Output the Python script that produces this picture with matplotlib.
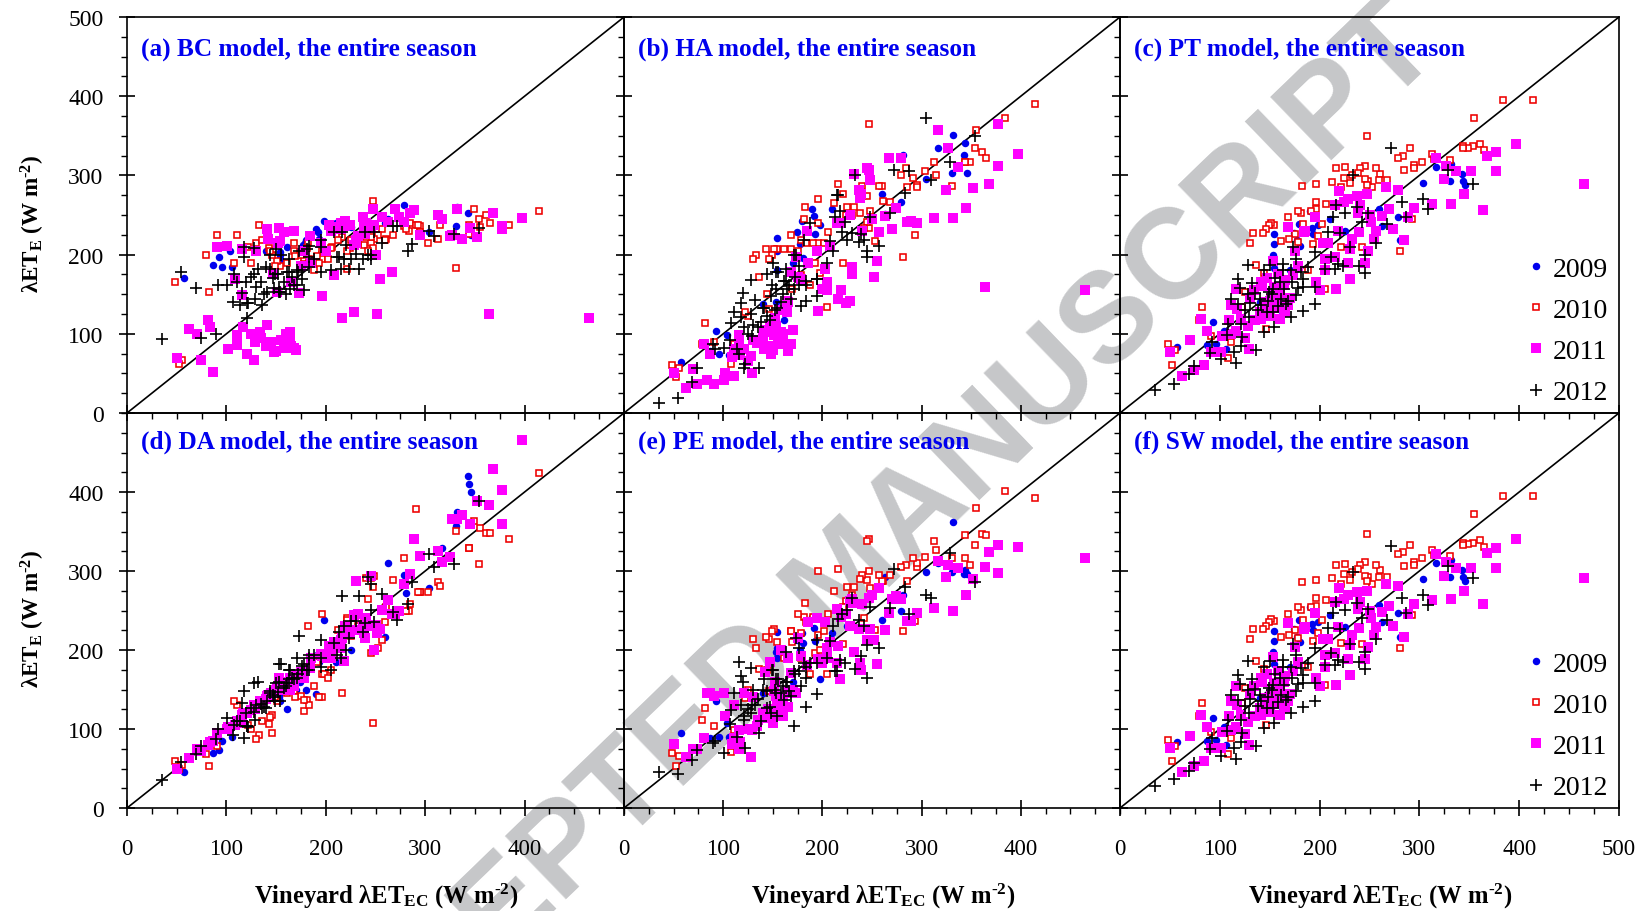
import matplotlib
matplotlib.use('Agg')
import matplotlib.pyplot as plt
from matplotlib.ticker import MultipleLocator

plt.rcParams['font.family'] = ['Liberation Serif', 'DejaVu Serif']
plt.rcParams['mathtext.fontset'] = 'custom'
plt.rcParams['mathtext.rm'] = 'Liberation Serif:bold'
plt.rcParams['mathtext.bf'] = 'Liberation Serif:bold'
plt.rcParams['mathtext.default'] = 'bf'

PANELS = ['(a) BC model, the entire season', '(b) HA model, the entire season',
          '(c) PT model, the entire season', '(d) DA model, the entire season',
          '(e) PE model, the entire season', '(f) SW model, the entire season']
YEARS = ['2009', '2010', '2011', '2012']
WATERMARK = 'ACCEPTED MANUSCRIPT'
OFF_SCALE = float('nan')

# each row: observed x, then the modelled y in panels a, b, c, d, e, f
ROWS_2009 = [
 (57,170,65,83,46,95,83),(93,197,103,115,74,135,114),(87,187,78,86,70,88,85),(96,184,75,87,85,90,86),
 (106,184,73,81,90,90,80),(104,204,98,104,100,108,103),(161,210,118,123,125,146,122),(154,203,221,226,150,202,224),
 (154,195,205,213,135,223,212),(153,190,140,199,140,197,198),(154,200,180,183,145,190,182),(174,205,228,227,160,213,226),
 (179,215,243,239,170,221,238),(190,232,258,255,144,242,254),(192,228,249,234,195,228,233),(198,243,237,237,238,163,236),
 (193,220,226,226,185,211,225),(177,212,213,218,165,200,217),(180,218,196,211,150,209,210),(260,240,276,258,217,238,257),
 (279,262,266,248,295,249,247),(263,245,251,236,310,292,235),(281,235,326,218,272,270,217),(304,229,295,291,278,299,290),
 (317,245,335,311,329,310,310),(332,260,351,315,375,362,314),(331,236,303,293,357,299,292),(343,252,326,302,420,296,301),
 (344,233,341,293,410,301,292),(346,225,303,288,400,296,287),(140,205,138,140,145,146,139),(170,205,190,180,150,160,179),
 (210,240,258,245,185,221,244),(225,235,255,230,200,230,229),
]

ROWS_2010 = [
 (414,255,390,395,424,393,395),(384,237,372,395,341,401,395),(355,235,357,372,354,380,372),(247,268,365,350,108,340,347),
 (361,250,330,340,348,347,339),(354,245,334,337,309,333,336),(349,258,317,335,363,308,334),(344,226,317,337,329,345,336),
 (344,237,317,334,329,317,333),(365,240,322,332,348,345,331),(331,183,287,320,351,316,319),(313,220,317,327,286,338,326),
 (315,238,300,321,281,326,320),(303,215,305,317,274,318,316),(295,236,288,313,274,305,312),(295,228,285,309,274,310,308),
 (285,240,285,307,258,287,306),(291,238,297,334,379,317,333),(284,230,309,325,249,308,324),(279,236,300,322,316,305,321),
 (268,225,267,294,289,295,293),(261,220,268,302,254,287,301),(260,218,287,294,236,287,293),(257,232,287,309,213,295,308),
 (253,225,217,285,203,225,284),(248,220,255,293,294,278,292),(245,215,274,295,291,289,294),(247,208,234,288,280,300,287),
 (245,222,241,312,196,338,311),(240,222,287,309,291,295,308),(238,212,252,303,234,290,302),(232,214,260,300,230,280,299),
 (230,215,250,290,225,270,289),(225,218,260,310,218,280,309),(216,222,289,309,145,303,308),(224,208,250,297,225,262,296),
 (221,205,276,285,240,255,284),(212,218,265,292,225,275,291),(196,200,270,289,246,300,288),(182,215,260,287,230,260,286),
 (196,195,240,267,169,219,266),(196,205,215,257,140,242,256),(206,210,228,264,200,245,263),(191,198,215,255,185,242,254),
 (181,208,245,252,137,242,251),(178,195,218,255,123,221,254),(168,215,207,247,148,224,246),(183,195,215,239,130,236,238),
 (154,185,207,238,150,210,237),(151,192,207,240,135,227,239),(149,186,200,237,140,224,236),(146,200,195,232,118,214,231),
 (143,208,207,227,106,217,226),(133,238,200,227,93,202,226),(130,215,195,215,87,214,214),(168,205,225,235,155,224,234),
 (175,200,205,226,142,245,225),(161,190,207,217,145,190,216),(169,198,157,220,140,210,219),(178,188,174,216,137,190,215),
 (193,190,190,213,140,196,212),(198,205,177,223,169,200,222),(202,195,215,239,165,224,238),(221,182,190,210,238,207,209),
 (242,205,234,209,265,240,208),(281,232,197,204,249,224,203),(293,237,225,245,274,237,244),(188,180,162,180,155,169,179),
 (136,218,172,187,110,176,186),(144,205,150,177,115,175,176),(125,190,123,153,100,150,152),(122,210,127,134,105,139,133),
 (82,153,114,134,53,127,133),(79,200,87,117,68,111,116),(91,225,90,97,79,104,96),(111,225,87,90,130,99,89),
 (48,165,61,87,60,70,86),(55,67,57,79,55,66,78),(52,62,45,61,50,53,60),(108,190,62,69,135,71,68),
 (205,208,134,157,175,169,156),(146,175,131,106,95,148,105),
]

ROWS_2011 = [
 (465,120,155,289,OFF_SCALE,317,291),(397,246,327,340,466,330,340),(377,236,312,330,403,333,329),(368,253,289,324,429,324,323),
 (377,232,365,305,360,298,304),(352,222,284,305,388,290,304),(337,220,311,305,371,304,304),(364,125,159,256,383,305,258),
 (345,233,259,276,360,270,275),(332,258,246,264,366,250,264),(313,250,246,264,325,253,263),(325,224,282,295,318,293,294),
 (327,225,334,312,366,308,311),(317,245,357,322,312,313,321),(295,225,240,259,319,247,258),(289,256,243,247,340,237,246),
 (285,253,241,218,296,237,217),(279,241,322,282,284,265,281),(274,247,259,232,250,268,231),(270,257,232,257,246,265,256),
 (267,178,322,285,246,247,284),(263,241,249,249,263,225,248),(257,247,228,230,251,278,229),(255,169,192,220,226,182,219),
 (252,125,172,241,221,213,240),(248,238,294,205,200,226,204),(245,233,309,189,294,213,188),(247,257,307,276,230,266,275),
 (237,247,281,274,230,226,273),(238,236,272,253,221,183,252),(239,226,276,229,215,175,228),(232,224,302,220,246,197,219),
 (230,215,176,207,287,265,206),(230,218,184,169,225,259,168),(228,128,142,190,244,230,189),(224,238,139,266,222,245,265),
 (219,243,155,280,231,242,279),(216,120,144,157,215,205,156),(218,236,240,230,186,163,229),(215,232,240,197,203,184,196),
 (208,174,211,215,210,210,214),(203,238,182,215,205,235,214),(205,230,155,180,190,190,179),(200,205,157,155,190,184,154),
 (196,148,129,165,193,188,164),(205,235,165,195,203,203,194),(184,224,230,228,177,181,227),(178,205,169,186,165,192,185),
 (168,230,178,235,155,171,234),(173,151,197,174,165,145,173),(164,90,142,161,165,148,160),(164,102,127,136,150,145,135),
 (153,234,110,192,165,142,191),(154,217,102,159,150,131,158),(160,88,87,119,150,116,118),(148,77,74,129,145,117,128),
 (141,232,81,165,140,114,164),(134,102,89,155,135,104,154),(116,207,98,156,118,99,155),(111,98,81,136,108,89,135),
 (117,109,73,131,120,83,130),(109,169,71,117,105,81,116),(116,149,87,104,112,75,103),(128,67,72,110,130,64,109),
 (141,111,102,119,142,117,118),(102,81,51,97,102,117,96),(111,86,47,100,110,131,99),(129,90,51,81,125,99,80),
 (101,211,42,77,100,145,76),(91,210,37,77,95,142,76),(87,52,75,104,85,145,103),(81,117,87,119,80,89,118),
 (70,100,56,92,75,75,91),(50,69,50,77,49,81,76),(84,109,42,61,83,145,60),(74,67,37,54,72,75,53),
 (62,106,32,47,63,64,46),(151,153,98,144,153,148,143),(158,82,102,144,158,131,143),(168,82,87,136,160,148,135),
 (121,75,81,119,120,145,118),
 (135,95,88,118,135,112,117),(140,85,96,128,138,120,127),(145,90,84,140,146,125,139),(150,78,80,122,150,108,121),
 (155,92,92,133,152,118,132),(160,100,100,150,160,135,149),(165,85,78,128,163,128,127),(170,80,105,145,168,150,144),
 (125,100,66,95,124,100,94),(130,205,92,145,130,140,144),(142,220,105,160,143,172,159),(147,175,110,170,146,185,169),
 (152,215,120,152,152,160,151),(158,228,130,175,155,200,174),(165,165,140,168,165,190,167),(175,185,172,205,172,215,204),
 (185,190,190,230,190,235,229),(195,215,205,248,195,240,247),(215,240,240,262,213,252,261),(228,212,250,270,225,262,269),
 (240,240,230,262,240,258,261),(250,200,245,250,232,270,249),
]

ROWS_2012 = [
 (35,93,12,29,35,46,28),(54,178,19,36,58,43,37),(69,158,39,49,68,61,47),(74,95,57,59,79,74,57),
 (90,100,87,76,87,82,75),(92,161,81,90,100,85,88),(101,161,82,68,114,70,66),(114,136,81,77,110,90,76),
 (116,151,75,63,133,185,62),(136,136,57,79,127,95,78),(121,120,57,85,104,112,84),(122,139,62,96,102,76,95),
 (107,140,92,98,93,106,97),(108,176,114,113,105,124,112),(111,165,128,144,110,145,143),(118,209,121,138,88,130,137),
 (118,197,139,169,148,167,168),(128,208,168,187,158,177,186),(120,165,152,158,120,160,157),(132,182,143,164,160,131,163),
 (130,159,111,139,131,150,138),(140,184,132,144,127,150,143),(141,153,132,136,135,163,135),(129,144,97,121,112,131,120),
 (121,139,108,113,104,116,112),(144,199,123,102,146,127,101),(154,153,132,108,135,116,107),(171,180,157,121,165,104,120),
 (183,184,141,129,194,128,128),(195,178,148,137,190,144,136),(176,169,162,149,175,173,148),(168,161,144,142,163,142,141),
 (161,178,167,144,158,137,143),(153,153,157,127,182,145,126),(149,176,162,153,135,175,152),(153,157,178,157,160,163,156),
 (164,157,157,157,175,160,156),(183,197,167,159,175,165,158),(195,209,169,159,179,184,158),(183,211,162,169,190,179,168),
 (171,161,199,180,190,173,179),(181,207,218,178,175,184,177),(188,195,240,184,194,184,183),(176,180,186,195,180,203,194),
 (163,195,182,188,163,197,187),(163,178,167,180,175,160,179),(150,207,190,187,158,175,186),(155,199,178,171,182,163,170),
 (144,182,176,180,148,148,179),(173,204,199,209,218,215,208),(195,218,169,203,213,213,202),(208,228,217,229,209,212,228),
 (220,212,228,227,200,245,226),(230,201,227,209,237,266,208),(211,197,205,197,194,231,196),(205,180,190,182,175,190,181),
 (218,195,255,188,231,187,187),(215,182,275,182,190,174,181),(223,182,241,186,215,184,185),(245,195,197,199,251,206,198),
 (245,200,204,177,284,164,176),(239,228,226,186,234,192,185),(257,215,211,215,271,202,214),(268,236,252,239,248,253,238),
 (287,214,305,248,286,245,247),(283,205,278,267,258,280,266),(304,230,372,270,321,270,269),(309,223,294,258,305,266,257),
 (272,236,307,334,238,303,332),(233,182,300,300,268,176,299),(216,228,275,262,268,239,261),(213,197,248,248,223,174,247),
 (237,195,216,260,223,238,259),(225,195,218,252,237,251,251),(248,228,248,253,235,254,252),(242,200,218,241,293,230,240),
 (354,233,350,289,388,286,291),(329,226,317,307,309,323,306),
 (125,172,100,130,126,125,129),(135,165,108,152,132,138,151),(147,170,118,128,143,128,127),(152,175,130,150,147,150,149),
 (158,165,140,135,152,145,134),(160,150,150,165,155,155,164),(166,172,162,138,165,148,137),(172,178,172,165,170,170,164),
 (178,155,135,158,182,155,157),(148,158,148,142,140,120,141),(138,150,115,130,128,110,129),(128,175,125,150,122,120,149),
]

SIZE_W, SIZE_H = 1645, 912
LEFTS = [127, 624, 1120]
RIGHTS = [624, 1120, 1619]
TOPS = [18, 414]
BOTTOMS = [414, 809]


def column(rows, i):
    return [r[i] for r in rows]


fig = plt.figure(figsize=(SIZE_W / 100, SIZE_H / 100), dpi=100, facecolor='white')

fig.text(849 / SIZE_W, 1 - 581 / SIZE_H, WATERMARK, rotation=44, rotation_mode='anchor',
         ha='center', va='center', fontsize=92, color='#c6c7c9', weight='bold',
         family='Liberation Sans', zorder=-1)

for i, title in enumerate(PANELS):
    r, c = divmod(i, 3)
    ax = fig.add_axes([LEFTS[c] / SIZE_W, 1 - BOTTOMS[r] / SIZE_H,
                       (RIGHTS[c] - LEFTS[c]) / SIZE_W, (BOTTOMS[r] - TOPS[r]) / SIZE_H])
    ax.patch.set_visible(False)
    ax.set_xlim(0, 500)
    ax.set_ylim(0, 500)
    ax.plot([0, 500], [0, 500], color='black', lw=1.2, zorder=2)
    col = i + 1
    ax.plot(column(ROWS_2009, 0), column(ROWS_2009, col), ls='none', marker='o', ms=5.4,
            mfc='#0000ee', mec='#0000ee', mew=0, zorder=3, label=YEARS[0], clip_on=False)
    ax.plot(column(ROWS_2010, 0), column(ROWS_2010, col), ls='none', marker='s', ms=4.5,
            mfc='white', mec='#ee0000', mew=1.15, zorder=4, label=YEARS[1], clip_on=False)
    ax.plot(column(ROWS_2011, 0), column(ROWS_2011, col), ls='none', marker='s', ms=7.6,
            mfc='#ff00ff', mec='#ff00ff', mew=0, zorder=5, label=YEARS[2], clip_on=False)
    ax.plot(column(ROWS_2012, 0), column(ROWS_2012, col), ls='none', marker='+', ms=8,
            mec='black', mew=1.2, zorder=6, label=YEARS[3], clip_on=False)

    for s in ax.spines.values():
        s.set_linewidth(1.2)
    ax.xaxis.set_major_locator(MultipleLocator(100))
    ax.yaxis.set_major_locator(MultipleLocator(100))
    ax.xaxis.set_minor_locator(MultipleLocator(25))
    ax.yaxis.set_minor_locator(MultipleLocator(25))
    ax.tick_params(which='major', direction='inout', length=12, width=1.2)
    ax.tick_params(which='minor', direction='out', length=4.5, width=1.0)
    ax.tick_params(axis='x', which='major', labelsize=16.5, pad=15.5)
    ax.tick_params(axis='y', which='major', labelsize=17, pad=11)

    if r == 0:
        ax.tick_params(axis='x', labelbottom=False)
    else:
        ax.set_xticks([0, 100, 200, 300, 400] + ([500] if c == 2 else []))
    if c == 0:
        ax.set_yticks([0, 100, 200, 300, 400] + ([500] if r == 0 else []))
    else:
        ax.tick_params(axis='y', labelleft=False)

    ax.text(0.029, 0.920 if r == 0 else 0.928, title, transform=ax.transAxes, color='#0000ee',
            weight='bold', fontsize=18.2, ha='left', va='center', zorder=8)

    if r == 1:
        fig.text(((LEFTS[c] + RIGHTS[c]) / 2 + 11) / SIZE_W, 1 - 896 / SIZE_H,
                 'Vineyard λET$_{EC}$ (W m$^{\\text{-}2}$)', weight='bold',
                 fontsize=17.7, ha='center', va='center')
    if c == 0:
        fig.text(33 / SIZE_W, 1 - (224 if r == 0 else 619) / SIZE_H,
                 'λET$_{E}$ (W m$^{\\text{-}2}$)', weight='bold',
                 fontsize=16.7, rotation=90, ha='center', va='center')
    if c == 2:
        ax.legend(loc='lower right', bbox_to_anchor=(1.006, -0.016), frameon=False, fontsize=20,
                  numpoints=1, handlelength=0.6, handletextpad=0.3, labelspacing=0.57,
                  borderaxespad=0.35, borderpad=0.15)

fig.savefig('out.png', dpi=100, facecolor='white')
